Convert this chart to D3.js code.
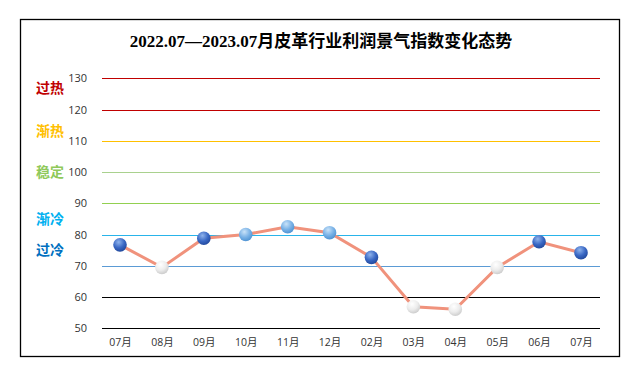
<!DOCTYPE html>
<html>
<head>
<meta charset="utf-8">
<script src="https://cdn.jsdelivr.net/npm/d3@7"></script>
<style>
  body { margin: 0; background: #fff; }
  svg { display: block; }
</style>
</head>
<body>
<svg id="chart"></svg>
<script>
// Data
const months = ['07月', '08月', '09月', '10月', '11月', '12月', '02月', '03月', '04月', '05月', '06月', '07月']
const values = [76.7, 69.5, 78.8, 80.0, 82.5, 80.6, 72.7, 56.9, 56.1, 69.5, 77.7, 74.2]
const yTicks = [50, 60, 70, 80, 90, 100, 110, 120, 130]
const zoneNames = ['过热', '渐热', '稳定', '渐冷', '过冷']
const zoneValues = [127, 113, 100, 85, 75]

const W = 636, H = 377
const title = '2022.07—2023.07月皮革行业利润景气指数变化态势'

const gridColor = {
    130: '#c00000', 120: '#c00000', 110: '#ffc000',
    100: '#a9d18e', 90: '#92d050', 80: '#29b4ea', 70: '#5b9bd5',
    60: '#000000', 50: '#000000'
}
const zoneColor = ['#c00000', '#ffc000', '#8fc95a', '#00b0f0', '#0070c0']

const svg = d3.select('#chart').attr('width', W).attr('height', H)

// Gradients for the ball markers
const defs = svg.append('defs')
const balls = {
    dark: ['#8fb3ec', '#3a68c4', '#1f4598'],
    light: ['#c9e2f8', '#78b1e6', '#4a8fd0'],
    white: ['#ffffff', '#ececec', '#c8c8c8']
}
Object.entries(balls).forEach(([k, c]) => {
    const g = defs.append('radialGradient').attr('id', 'ball-' + k)
        .attr('cx', '40%').attr('cy', '30%').attr('r', '75%')
    g.append('stop').attr('offset', '0%').attr('stop-color', c[0])
    g.append('stop').attr('offset', '55%').attr('stop-color', c[1])
    g.append('stop').attr('offset', '100%').attr('stop-color', c[2])
})

// Frame
svg.append('rect')
    .attr('x', 20.5).attr('y', 19.5)
    .attr('width', 599).attr('height', 337)
    .attr('fill', '#fff').attr('stroke', '#000').attr('stroke-width', 1.3)

svg.append('text')
    .attr('x', 321).attr('y', 47)
    .attr('text-anchor', 'middle')
    .attr('font-family', '"Liberation Serif", "Noto Sans CJK SC", serif')
    .attr('font-size', 17)
    .attr('font-weight', 'bold')
    .text(title)

// Scales
const x = d3.scalePoint().domain(d3.range(months.length)).range([120, 581])
const y = d3.scaleLinear().domain([50, 130]).range([328.3, 78.3])
const crisp = v => Math.round(y(v)) + 0.5

// Grid lines
svg.append('g').selectAll('line')
    .data(yTicks)
    .join('line')
    .attr('x1', 102).attr('x2', 600)
    .attr('y1', d => crisp(d)).attr('y2', d => crisp(d))
    .attr('stroke', d => gridColor[d])
    .attr('stroke-width', 1.2)

// Y axis labels
const yAxis = d3.axisLeft(y).tickValues(yTicks).tickSize(0).tickPadding(0)
svg.append('g')
    .attr('transform', 'translate(87,0)')
    .call(yAxis)
    .call(g => g.select('.domain').remove())
    .call(g => g.selectAll('text')
        .attr('font-family', '"Open Sans", "Noto Sans", sans-serif')
        .attr('font-size', 11)
        .attr('fill', '#333'))

// X axis labels
const xAxis = d3.axisBottom(x).tickFormat(i => months[i]).tickSize(0).tickPadding(0)
svg.append('g')
    .attr('transform', 'translate(0,339)')
    .call(xAxis)
    .call(g => g.select('.domain').remove())
    .call(g => g.selectAll('text')
        .attr('font-family', '"Open Sans", "Noto Sans CJK SC", sans-serif')
        .attr('font-size', 10.5)
        .attr('fill', '#333'))

// Zone labels
svg.append('g').selectAll('text')
    .data(zoneNames)
    .join('text')
    .attr('x', 50)
    .attr('y', (d, i) => y(zoneValues[i]))
    .attr('dy', '0.36em')
    .attr('text-anchor', 'middle')
    .attr('font-family', '"Noto Sans CJK SC", sans-serif')
    .attr('font-size', 14)
    .attr('font-weight', 'bold')
    .attr('fill', (d, i) => zoneColor[i])
    .text(d => d)

// Line
const line = d3.line().x((d, i) => x(i)).y(d => y(d))
svg.append('path')
    .datum(values)
    .attr('d', line)
    .attr('fill', 'none')
    .attr('stroke', '#f0927c')
    .attr('stroke-width', 3)

// Markers
const ballType = v => v >= 80 ? 'light' : (v >= 70 ? 'dark' : 'white')
svg.append('g').selectAll('circle')
    .data(values)
    .join('circle')
    .attr('cx', (d, i) => x(i))
    .attr('cy', d => y(d))
    .attr('r', 6.8)
    .attr('fill', d => 'url(#ball-' + ballType(d) + ')')
</script>
</body>
</html>
